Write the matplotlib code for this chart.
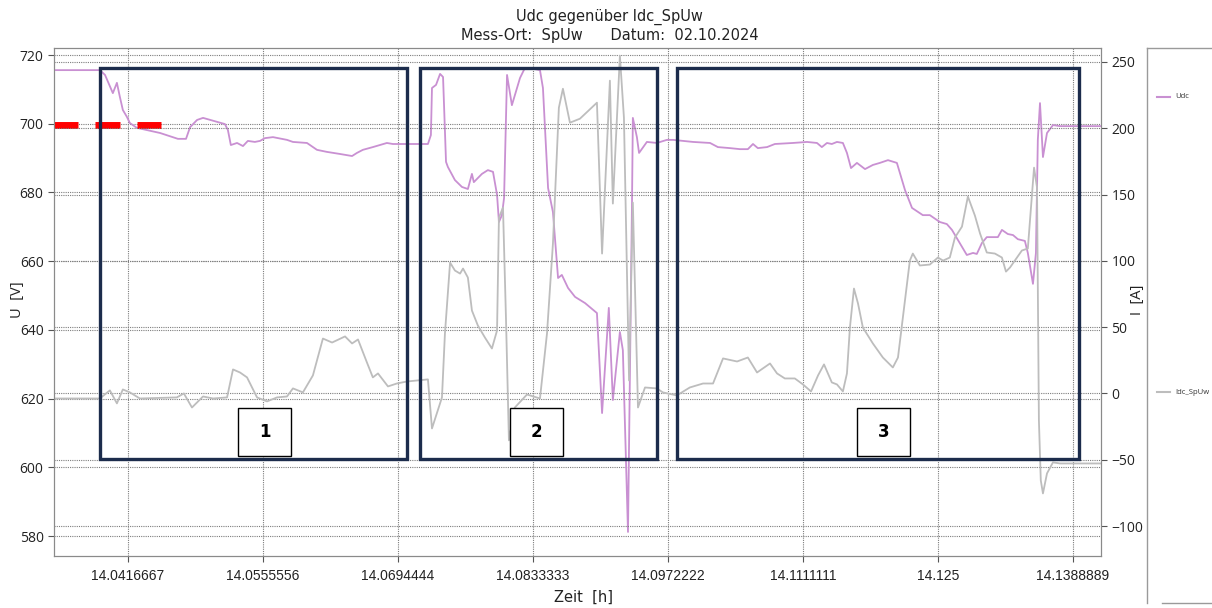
import numpy as np
import matplotlib
matplotlib.use('Agg')
import matplotlib.pyplot as plt
from matplotlib.patches import Rectangle
from matplotlib.lines import Line2D

# time in seconds after 14:00:00
t_udc = [122.6, 139.6, 141.5, 144.4, 145.9, 147.0, 148.1, 149.6, 150.7, 153.3,
         161.9, 168.5, 171.5, 173.0, 175.6, 177.8, 185.9, 187.0, 188.1, 190.4,
         192.6, 194.4, 197.0, 198.9, 200.7, 203.7, 208.9, 211.1, 216.3, 220.0,
         223.7, 228.5, 233.0, 234.8, 237.0, 240.7, 245.9, 248.1, 261.1, 262.2,
         262.6, 264.1, 265.6, 266.7, 267.8, 268.5, 271.1, 273.7, 275.9, 277.4,
         278.1, 281.1, 283.3, 285.2, 286.7, 287.4, 288.5, 289.3, 290.4, 292.2,
         295.2, 297.0, 298.9, 302.6, 303.7, 305.6, 307.4, 309.3, 310.7, 313.0,
         315.6, 319.3, 323.7, 325.6, 328.1, 329.6, 332.2, 333.3, 335.2, 336.7,
         337.0, 338.5, 339.3, 342.2, 345.9, 349.6, 351.9, 359.3, 365.6, 368.5,
         373.0, 376.7, 379.6, 381.5, 383.3, 386.7, 389.6, 396.3, 401.5, 405.2,
         407.0, 408.9, 410.7, 412.6, 414.8, 416.3, 417.8, 420.0, 423.0, 425.9,
         428.5, 431.5, 434.8, 437.8, 440.4, 444.4, 447.0, 450.7, 453.3, 455.2,
         457.4, 460.7, 463.0, 464.4, 466.3, 468.1, 472.2, 473.7, 475.9, 477.8,
         479.6, 482.2, 483.3, 485.2, 486.3, 487.0, 487.8, 488.9, 490.4, 492.6,
         495.2, 510.4]
udc = [715.6, 715.6, 714.2, 708.9, 711.9, 707.8, 704.0, 702.0, 700.2, 698.8,
       697.3, 695.6, 695.6, 699.0, 701.1, 701.7, 699.9, 698.2, 693.8, 694.4,
       693.5, 695.0, 694.7, 695.0, 695.8, 696.1, 695.3, 694.7, 694.4, 692.4,
       691.8, 691.2, 690.6, 691.5, 692.4, 693.2, 694.4, 694.1, 694.1, 696.7,
       710.4, 711.3, 714.5, 713.6, 688.9, 687.4, 683.6, 681.6, 681.0, 685.4,
       683.0, 685.4, 686.5, 686.0, 679.3, 671.4, 673.4, 678.4, 714.2, 705.4,
       713.3, 716.2, 716.2, 715.6, 710.4, 681.3, 674.3, 655.1, 656.0, 652.2,
       649.6, 647.8, 644.9, 615.8, 646.4, 619.6, 639.4, 634.1, 581.2, 677.8,
       701.7, 696.1, 691.5, 694.7, 694.4, 695.3, 695.3, 694.7, 694.4, 693.2,
       692.9, 692.6, 692.6, 694.1, 692.9, 693.2, 694.1, 694.4, 694.7, 694.4,
       693.2, 694.4, 694.1, 694.7, 694.4, 691.5, 687.1, 688.6, 686.8, 688.0,
       688.6, 689.4, 688.6, 680.7, 675.5, 673.4, 673.4, 671.4, 670.8, 669.1,
       666.2, 661.8, 662.4, 662.1, 665.3, 667.0, 667.0, 669.1, 667.9, 667.6,
       666.4, 665.9, 662.4, 653.4, 662.4, 695.3, 706.0, 690.3, 697.3, 699.6,
       699.3, 699.3]

t_idc = [122.6, 139.6, 143.3, 145.9, 148.1, 150.7, 154.4, 168.1, 170.7, 173.7,
         177.8, 181.5, 186.7, 188.9, 191.5, 194.1, 197.8, 201.5, 205.2, 208.9,
         211.1, 214.8, 218.5, 222.2, 225.6, 230.4, 233.0, 235.2, 238.5, 240.7,
         242.6, 246.3, 249.6, 253.3, 261.1, 262.6, 266.3, 267.4, 269.3, 271.1,
         273.0, 274.1, 275.9, 277.4, 279.6, 282.2, 284.8, 286.7, 287.4, 288.9,
         290.0, 291.1, 293.3, 297.8, 302.6, 305.2, 307.4, 309.6, 311.1, 313.7,
         317.4, 323.7, 325.6, 328.5, 329.6, 332.2, 333.7, 335.6, 337.0, 338.9,
         341.5, 345.9, 348.1, 353.3, 358.1, 363.0, 366.7, 370.4, 375.6, 379.6,
         383.0, 387.8, 390.4, 393.3, 397.0, 400.0, 403.0, 405.6, 407.8, 410.7,
         412.6, 414.8, 416.3, 417.4, 418.9, 420.4, 422.2, 425.9, 429.6, 433.3,
         435.2, 437.8, 439.6, 440.7, 443.3, 447.0, 450.0, 451.9, 454.4, 456.3,
         458.9, 461.1, 463.7, 465.6, 468.1, 471.1, 473.7, 475.2, 476.7, 479.3,
         481.1, 483.3, 485.6, 486.7, 487.4, 488.1, 488.9, 490.4, 492.6, 495.2,
         510.4]
idc = [-3.8, -3.8, 2.3, -7.5, 3.0, 0.8, -3.8, -3.0, 0.0, -10.6,
       -2.3, -3.8, -3.0, 18.1, 15.8, 12.1, -3.0, -6.0, -3.0, -2.3,
       3.8, 0.8, 13.6, 41.4, 38.4, 43.0, 37.7, 40.7, 23.4, 12.1,
       15.1, 5.3, 7.5, 9.0, 10.6, -26.4, -3.0, 45.2, 98.7, 92.7,
       90.4, 94.2, 87.4, 62.5, 51.2, 42.2, 33.9, 47.5, 132.6, 140.2,
       57.3, -35.4, -10.6, -0.8, -3.8, 45.2, 113.0, 215.5, 229.8, 204.2,
       207.2, 219.3, 105.5, 235.9, 143.2, 254.7, 208.0, 9.8, 143.9, -10.6,
       4.5, 3.8, 0.8, -1.5, 4.5, 7.5, 7.5, 26.4, 24.1, 27.1,
       15.8, 22.6, 15.1, 11.3, 11.3, 6.8, 1.5, 13.6, 21.9, 8.3,
       6.8, 1.5, 15.1, 49.7, 79.1, 67.8, 49.7, 37.7, 27.1, 19.6,
       27.1, 70.1, 100.2, 105.5, 96.5, 97.2, 102.5, 100.2, 102.5, 117.6,
       125.8, 148.5, 134.1, 120.6, 106.3, 105.5, 102.5, 91.9, 95.0, 102.5,
       107.8, 109.3, 170.3, 155.2, -20.3, -65.6, -75.4, -60.3, -52.0, -52.8,
       -52.8]

x_ticks_s = [150, 200, 250, 300, 350, 400, 450, 500]
x_tick_labels = ['14.0416667', '14.0555556', '14.0694444', '14.0833333',
                 '14.0972222', '14.1111111', '14.125', '14.1388889']

# marked regions (seconds, volts) and label boxes
regions = [(139.6, 253.3), (258.1, 345.9), (353.3, 502.2)]
region_u = (602.4, 716.2)
label_boxes = [(190.7, 210.4, '1'), (291.5, 311.1, '2'), (420.0, 439.6, '3')]
label_u = (603.3, 617.3)
red_dash_u = 699.6
red_dashes = [(122.6, 131.5), (137.9, 147.0), (153.3, 162.2)]


def h(s):
    return 14 + np.asarray(s, dtype=float) / 3600.0


purple = '#c990d2'
grey = '#bdbdbd'
navy = '#1c2c4c'
gridc = '#7d7d7d'
txtc = '#222222'

fig = plt.figure(figsize=(12.12, 6.08), dpi=100)
ax = fig.add_axes([54/1212, 1-556/608, (1101-54)/1212, (556-48.3)/608])
ax2 = ax.twinx()

ax.plot(h(t_udc), udc, color=purple, lw=1.3, zorder=3)
ax2.plot(h(t_idc), idc, color=grey, lw=1.3, zorder=2)

ax.set_xlim(h(122.6), h(510.4))
ax.set_ylim(574.2, 721.95)
ax2.set_ylim(-122.6, 260.3)

ax.set_xticks(h(x_ticks_s))
ax.set_xticklabels(x_tick_labels, family='Liberation Sans', fontsize=9.5)
ax.set_yticks(np.arange(580, 721, 20))
ax2.set_yticks(np.arange(-100, 251, 50))
for a in (ax, ax2):
    a.tick_params(labelsize=10, length=4, color='#555555', labelcolor=txtc)
    for lab in a.get_yticklabels():
        lab.set_family('Open Sans')
    for sp in a.spines.values():
        sp.set_color('#8a8a8a')
ax.tick_params(axis='x', length=4, pad=5)

ax.grid(True, linestyle=(0, (1, 1)), color=gridc, lw=0.8)
ax2.grid(True, axis='y', linestyle=(0, (1, 1)), color=gridc, lw=0.8)
ax.set_axisbelow(True)

# axis labels placed as in the reference
fig.text(18/1212, 1-300/608, 'U  [V]', rotation=90, ha='center', va='center',
         fontsize=10.5, family='Open Sans', color=txtc)
fig.text(1137/1212, 1-300/608, 'I  [A]', rotation=90, ha='center', va='center',
         fontsize=10.5, family='Open Sans', color=txtc)
fig.text(583/1212, 1-597/608, 'Zeit  [h]', ha='center', va='center',
         fontsize=10.5, color=txtc)

fig.text(0.503, 0.972, 'Udc gegenüber Idc_SpUw', ha='center', va='center',
         fontsize=10.5, color=txtc)
fig.text(0.503, 0.942, 'Mess-Ort:  SpUw      Datum:  02.10.2024', ha='center',
         va='center', fontsize=10.5, color=txtc)

# red dashes at 700 V
for a0, a1 in red_dashes:
    ax.plot([h(a0), h(a1)], [red_dash_u, red_dash_u], color='red', lw=5,
            solid_capstyle='butt', zorder=6, clip_on=False)

# region boxes (drawn on top of both axes)
for s0, s1 in regions:
    ax2.add_patch(Rectangle((h(s0), region_u[0]), h(s1) - h(s0),
                            region_u[1] - region_u[0], transform=ax.transData,
                            fill=False, edgecolor=navy, lw=2.4, zorder=8))
for s0, s1, txt in label_boxes:
    ax2.add_patch(Rectangle((h(s0), label_u[0]), h(s1) - h(s0),
                            label_u[1] - label_u[0], transform=ax.transData,
                            facecolor='white', edgecolor='black', lw=1.0, zorder=9))
    ax2.text((h(s0) + h(s1)) / 2, sum(label_u) / 2, txt, transform=ax.transData,
             ha='center', va='center', fontsize=12, fontweight='bold', zorder=10)

# legend panel on the right
lc = '#9a9a9a'
fig.add_artist(Line2D([1147/1212, 1147/1212], [1-48/608, 1-603/608], color=lc, lw=1))
fig.add_artist(Line2D([1147/1212, 1.0], [1-48/608, 1-48/608], color=lc, lw=1))
fig.add_artist(Line2D([1162/1212, 1.0], [1-603/608, 1-603/608], color=lc, lw=1))
fig.add_artist(Line2D([1157/1212, 1170/1212], [1-97/608, 1-97/608], color=purple, lw=1.5))
fig.text(1175/1212, 1-97/608, 'Udc', fontsize=5.5, va='center', color='#333333',
         family='Open Sans')
fig.add_artist(Line2D([1157/1212, 1170/1212], [1-392/608, 1-392/608], color=grey, lw=1.5))
fig.text(1175/1212, 1-392/608, 'Idc_SpUw', fontsize=5.5, va='center', color='#333333',
         family='Open Sans')

fig.savefig('out.png', dpi=100)
